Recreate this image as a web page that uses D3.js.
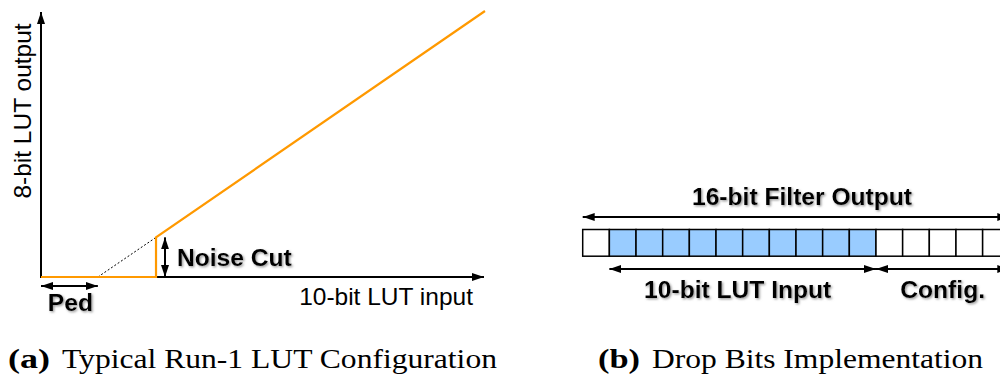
<!DOCTYPE html>
<html>
<head>
<meta charset="utf-8">
<script src="https://cdn.jsdelivr.net/npm/d3@7"></script>
<style>
  html, body { margin: 0; padding: 0; background: #fff; }
  svg { display: block; }
  .bold { font-family: "Liberation Sans", Arial, sans-serif; font-weight: bold; font-size: 24.6px; }
  .reg { font-family: "Liberation Sans", Arial, sans-serif; font-size: 24.5px; }
  .cap { font-family: "Liberation Serif", "Times New Roman", serif; font-size: 27px; }
</style>
</head>
<body>
<script>
// ---- LUT transfer curve (10-bit input -> 8-bit output) ----
const inputRange = [0, 1023];
const outputRange = [0, 255];
const pedestal = 131;
const noiseCut = 265;
const lutCurve = [[0, 0], [265, 0], [265, 38], [1023, 255]];
const extrapolation = [[131, 0], [265, 38]];
const xAxisLabel = "10-bit LUT input";
const yAxisLabel = "8-bit LUT output";

// ---- Drop-bits layout of the 16-bit filter output ----
const bitRoles = ["drop", "lut", "lut", "lut", "lut", "lut", "lut", "lut", "lut", "lut", "lut",
                  "cfg", "cfg", "cfg", "cfg", "cfg"];
const spanLabels = ["16-bit Filter Output", "10-bit LUT Input", "Config."];
const spanStart = [0, 1, 11];
const spanEnd = [16, 11, 16];
const spanSide = ["top", "bottom", "bottom"];

const captions = [["(a)", "Typical Run-1 LUT Configuration"], ["(b)", "Drop Bits Implementation"]];

const W = 1000, H = 381;
const svg = d3.select("body").append("svg").attr("width", W).attr("height", H);

const defs = svg.append("defs");
defs.append("marker")
  .attr("id", "head")
  .attr("markerUnits", "userSpaceOnUse")
  .attr("viewBox", "0 0 12 8")
  .attr("markerWidth", 12).attr("markerHeight", 8)
  .attr("refX", 12).attr("refY", 4)
  .attr("orient", "auto-start-reverse")
  .append("path").attr("d", "M0,0L12,4L0,8Z").attr("fill", "#000");

const shadow = defs.append("filter").attr("id", "shadow")
  .attr("x", "-10%").attr("y", "-30%").attr("width", "130%").attr("height", "170%");
shadow.append("feDropShadow").attr("dx", 1.3).attr("dy", 1.3)
  .attr("stdDeviation", 0.8).attr("flood-color", "#777").attr("flood-opacity", 0.75);

// ================= Panel (a) =================
const x = d3.scaleLinear().domain(inputRange).range([41, 485]);
const y = d3.scaleLinear().domain(outputRange).range([277, 11]);

const pa = svg.append("g");

// axes drawn as arrows
const xAxis = pa.append("g").attr("transform", `translate(0,${y(0)})`)
  .call(d3.axisBottom(x).tickValues([]).tickSizeOuter(0));
xAxis.select(".domain").attr("stroke", "#000").attr("stroke-width", 2)
  .attr("d", `M${x(0)},0H${x(inputRange[1]) - 1}`).attr("marker-end", "url(#head)");

const yAxis = pa.append("g").attr("transform", `translate(${x(0)},0)`)
  .call(d3.axisLeft(y).tickValues([]).tickSizeOuter(0));
yAxis.select(".domain").attr("stroke", "#000").attr("stroke-width", 2)
  .attr("d", `M0,${y(0) + 1}V${y(outputRange[1]) + 1}`).attr("marker-end", "url(#head)");

const line = d3.line().x(d => x(d[0])).y(d => y(d[1]));

pa.append("path").datum(extrapolation)
  .attr("d", line).attr("fill", "none").attr("stroke", "#000")
  .attr("stroke-width", 1).attr("stroke-dasharray", "2,2");

pa.append("path").datum(lutCurve)
  .attr("d", line).attr("fill", "none").attr("stroke", "#ff9900")
  .attr("stroke-width", 2.2).attr("stroke-linejoin", "miter");

// pedestal width arrow
pa.append("line")
  .attr("x1", x(0)).attr("x2", x(pedestal)).attr("y1", y(0) + 9).attr("y2", y(0) + 9)
  .attr("stroke", "#000").attr("stroke-width", 2)
  .attr("marker-start", "url(#head)").attr("marker-end", "url(#head)");
pa.append("text").attr("class", "bold").attr("filter", "url(#shadow)")
  .attr("x", (x(0) + x(pedestal)) / 2 + 1).attr("y", 311)
  .attr("text-anchor", "middle").text("Ped");

// noise cut height arrow
const cutTop = lutCurve[2][1];
pa.append("line")
  .attr("x1", x(noiseCut) + 9).attr("x2", x(noiseCut) + 9)
  .attr("y1", y(cutTop)).attr("y2", y(0))
  .attr("stroke", "#000").attr("stroke-width", 2)
  .attr("marker-start", "url(#head)").attr("marker-end", "url(#head)");
pa.append("text").attr("class", "bold").attr("filter", "url(#shadow)")
  .attr("x", x(noiseCut) + 21).attr("y", 266).text("Noise Cut");

pa.append("text").attr("class", "reg")
  .attr("x", 473).attr("y", 305).attr("text-anchor", "end").text(xAxisLabel);

pa.append("text").attr("class", "reg")
  .attr("transform", `translate(31,${(22 + 200) / 2}) rotate(-90)`)
  .attr("text-anchor", "middle").text(yAxisLabel);

// ================= Panel (b) =================
const bx = d3.scaleLinear().domain([0, bitRoles.length]).range([582.7, 1009.3]);
const boxTop = 229.5, boxH = 26.7;
const fillFor = { drop: "#fff", lut: "#99ccff", cfg: "#fff" };

const pb = svg.append("g");
pb.selectAll("rect.bit").data(bitRoles).join("rect")
  .attr("class", "bit")
  .attr("x", (d, i) => bx(i)).attr("y", boxTop)
  .attr("width", bx(1) - bx(0)).attr("height", boxH)
  .attr("fill", d => fillFor[d]).attr("stroke", "#000").attr("stroke-width", 1.5);

const spans = spanLabels.map((label, i) => ({
  label, from: spanStart[i], to: spanEnd[i], side: spanSide[i]
}));

pb.selectAll("line.span").data(spans).join("line")
  .attr("class", "span")
  .attr("x1", d => bx(d.from)).attr("x2", d => bx(d.to))
  .attr("y1", d => d.side === "top" ? 217 : 269)
  .attr("y2", d => d.side === "top" ? 217 : 269)
  .attr("stroke", "#000").attr("stroke-width", 2)
  .attr("marker-start", "url(#head)").attr("marker-end", "url(#head)");

pb.selectAll("text.span").data(spans).join("text")
  .attr("class", "span bold").attr("filter", "url(#shadow)")
  .attr("x", d => {
    const mid = (bx(d.from) + bx(d.to)) / 2;
    return d.side === "top" ? mid + 6 : (d.to === bitRoles.length ? mid : mid - 5);
  })
  .attr("y", d => d.side === "top" ? 205 : 298)
  .attr("text-anchor", "middle").text(d => d.label);

// ================= Captions =================
const capPos = [[8, 62, 497], [598, 652, 983]];
captions.forEach((c, i) => {
  const [xl, xt, xe] = capPos[i];
  svg.append("text").attr("class", "cap").attr("font-weight", "bold")
    .attr("x", xl).attr("y", 368).attr("textLength", 42).attr("lengthAdjust", "spacingAndGlyphs")
    .text(c[0]);
  svg.append("text").attr("class", "cap")
    .attr("x", xt).attr("y", 368).attr("textLength", xe - xt).attr("lengthAdjust", "spacingAndGlyphs")
    .text(c[1]);
});
</script>
</body>
</html>
